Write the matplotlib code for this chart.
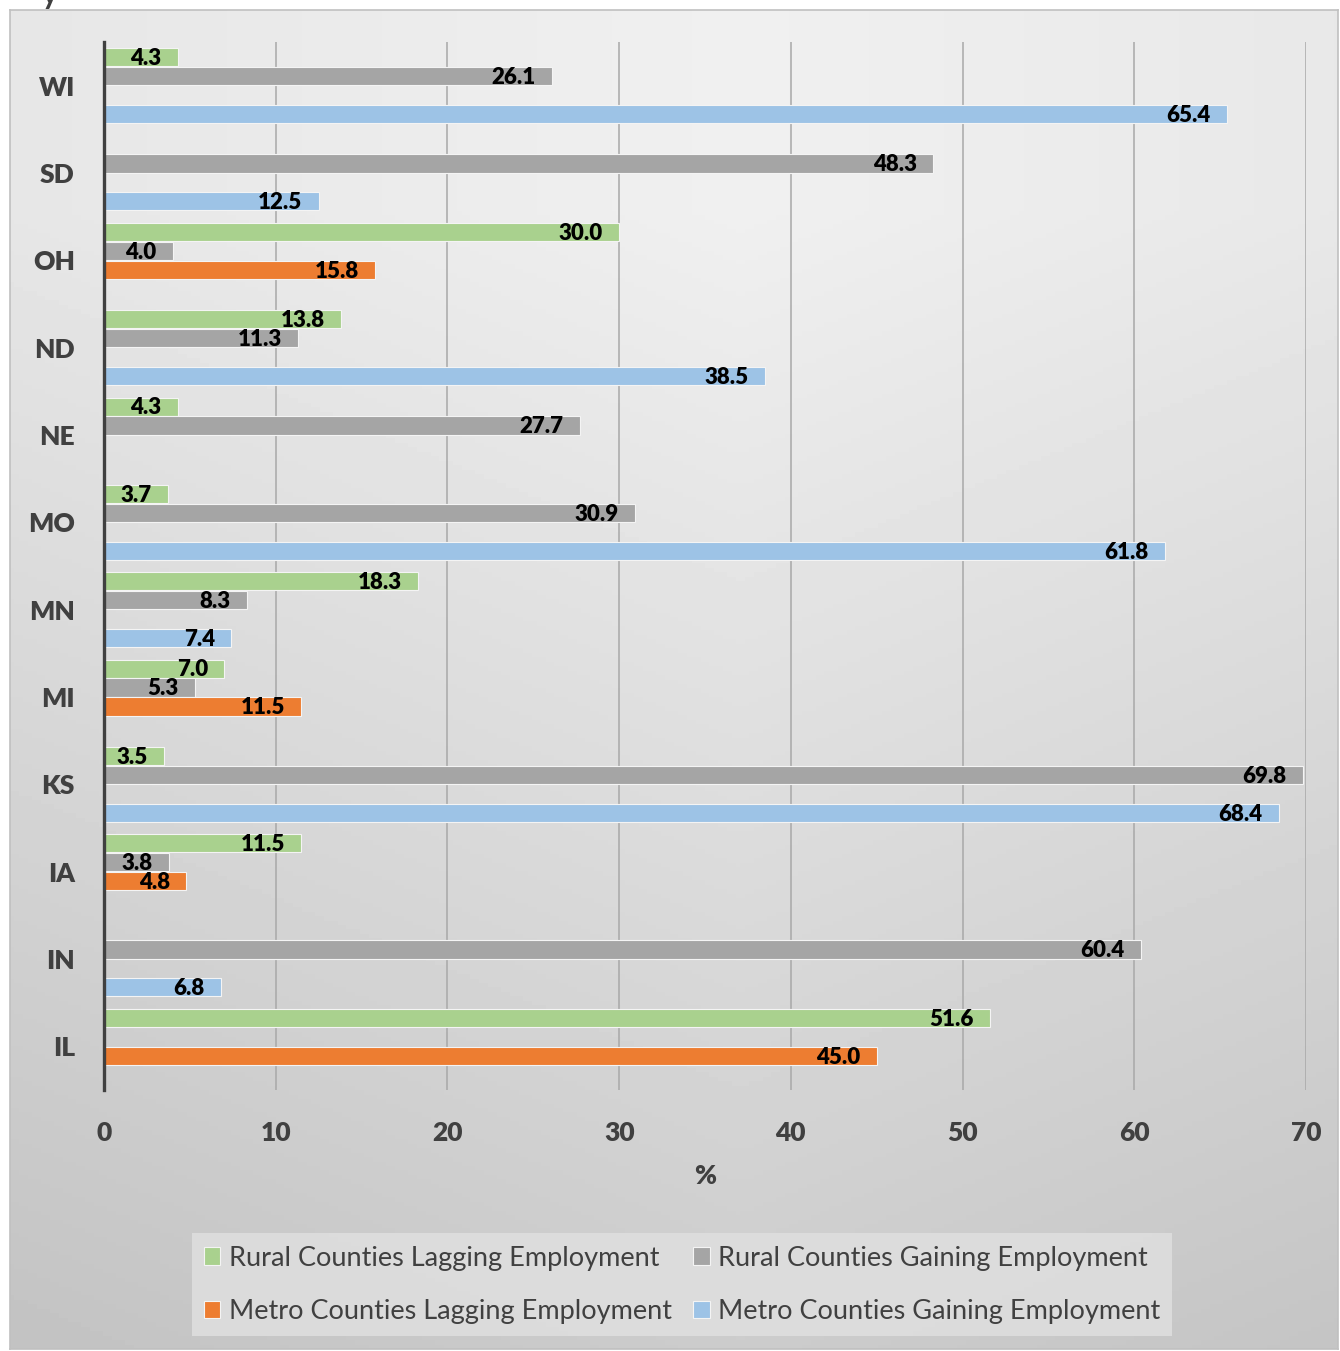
import matplotlib.pyplot as plt
import numpy as np

states = ['IL', 'IN', 'IA', 'KS', 'MI', 'MN', 'MO', 'NE', 'ND', 'OH', 'SD', 'WI']
nan = np.nan
rural_lagging = [51.6, nan, 11.5, 3.5, 7.0, 18.3, 3.7, 4.3, 13.8, 30.0, nan, 4.3]
rural_gaining = [nan, 60.4, 3.8, 69.8, 5.3, 8.3, 30.9, 27.7, 11.3, 4.0, 48.3, 26.1]
metro_lagging = [45.0, nan, 4.8, nan, 11.5, nan, nan, nan, nan, 15.8, nan, nan]
metro_gaining = [nan, 6.8, nan, 68.4, nan, 7.4, 61.8, nan, 38.5, nan, 12.5, 65.4]

series = [
    ('Rural Counties Lagging Employment', rural_lagging, '#a9d18e'),
    ('Rural Counties Gaining Employment', rural_gaining, '#a5a5a5'),
    ('Metro Counties Lagging Employment', metro_lagging, '#ed7d31'),
    ('Metro Counties Gaining Employment', metro_gaining, '#9dc3e6'),
]

plt.rcParams['font.family'] = ['Lato', 'DejaVu Sans']

fig = plt.figure(figsize=(13.4, 13.51), dpi=100)
fig.patch.set_facecolor('white')

# chart area with a soft gradient (lighter at top, darker towards the bottom)
bg = fig.add_axes([10 / 1340, 2 / 1351, 1328 / 1340, 1339 / 1351])
gx, gy = np.meshgrid(np.linspace(0, 1, 300), np.linspace(0, 1, 300))
shade = (0.94 - 0.03 * np.abs(gx - 0.55) / 0.45
         - 0.14 * np.clip(0.85 - gy, 0, 1) / 0.85)
bg.imshow(shade, cmap='gray', vmin=0, vmax=1, origin='lower',
          extent=[0, 1, 0, 1], aspect='auto')
bg.set_xticks([])
bg.set_yticks([])
for sp in bg.spines.values():
    sp.set_color('#c0c0c0')
    sp.set_linewidth(1.2)

ax = fig.add_axes([104 / 1340, 261 / 1351, 1202 / 1340, 1048 / 1351])
ax.set_facecolor('none')

y = np.arange(len(states))
h = 0.2165
handles = []
for i, (name, vals, color) in enumerate(series):
    vals = np.array(vals, dtype=float)
    ok = ~np.isnan(vals)
    pos = y[ok] + (1.5 - i) * h
    b = ax.barh(pos, vals[ok], height=h * 0.96, color=color,
                edgecolor='#f4f4f4', linewidth=0.8, zorder=3, label=name)
    handles.append(b)
    for p, v in zip(pos, vals[ok]):
        ax.text(v - 0.95, p - 0.015, f'{v:.1f}', ha='right', va='center',
                fontsize=16, fontweight='heavy', color='black', zorder=4)

ax.set_xlim(0, 70)
ax.set_ylim(-0.5, len(states) - 0.5)
ax.set_xticks(np.arange(0, 71, 10))
ax.set_yticks(y)
ax.set_yticklabels(states)
ax.grid(axis='x', color='#a8a8a8', linewidth=1.1, zorder=0)
ax.set_axisbelow(True)
for side in ['top', 'right', 'bottom']:
    ax.spines[side].set_visible(False)
ax.spines['left'].set_color('#404040')
ax.spines['left'].set_linewidth(2.4)
ax.spines['left'].set_zorder(5)
ax.tick_params(axis='both', length=0, labelcolor='#404040', labelsize=19)
ax.tick_params(axis='x', pad=22)
ax.tick_params(axis='y', pad=21)
for lbl in ax.get_xticklabels() + ax.get_yticklabels():
    lbl.set_fontweight('heavy')
ax.set_xlabel('%', fontsize=19, fontweight='heavy', color='#404040', labelpad=14)

leg = fig.legend(handles=[handles[0], handles[2], handles[1], handles[3]],
                 loc='center', bbox_to_anchor=(0.509, 0.049), ncol=2,
                 fontsize=19.5, frameon=True, fancybox=False,
                 handlelength=0.6, handleheight=0.6, handletextpad=0.3,
                 columnspacing=0.8, labelspacing=1.05, borderpad=0.45)
leg.get_frame().set_facecolor('#dedede')
leg.get_frame().set_edgecolor('none')
leg.get_frame().set_alpha(0.9)
for t in leg.get_texts():
    t.set_color('#404040')

# cut-off letter from the slide above the chart
fig.text(0.031, 0.9968, 'y', fontsize=22, fontweight='bold', color='#404040',
         va='baseline')

fig.savefig('out.png', dpi=100)
